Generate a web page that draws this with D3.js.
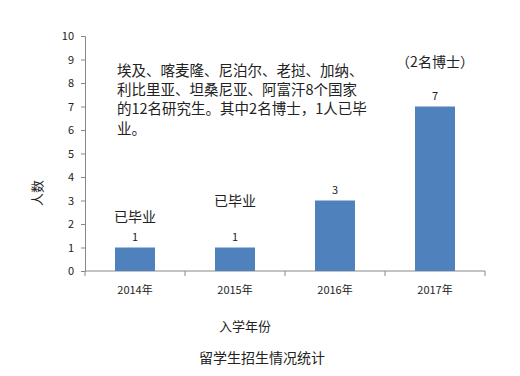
<!DOCTYPE html>
<html>
<head>
<meta charset="utf-8">
<script src="https://cdn.jsdelivr.net/npm/d3@7"></script>
<style>
	body { margin: 0; background: #fff; }
	svg text { font-family: "Noto Sans CJK SC", "DejaVu Sans", sans-serif; fill: #222; }
</style>
</head>
<body>
<svg id="chart" width="520" height="376"></svg>
<script>
const years = ["2014年", "2015年", "2016年", "2017年"];
const counts = [1, 1, 3, 7];
const yTicks = [0, 1, 2, 3, 4, 5, 6, 7, 8, 9, 10];
const notes = ["已毕业", "已毕业", "", "（2名博士）"];
const noteLevels = [2.3, 3.0, 0, 8.9]; // value level each note sits at
const blurb = [
	"埃及、喀麦隆、尼泊尔、老挝、加纳、",
	"利比里亚、坦桑尼亚、阿富汗8个国家",
	"的12名研究生。其中2名博士，1人已毕",
	"业。"
];

const svg = d3.select("#chart");
const plotLeft = 85, plotRight = 485, plotTop = 36, plotBottom = 271;

const x = d3.scaleBand().domain(years).range([plotLeft, plotRight]).paddingInner(0.6).paddingOuter(0.3);
const y = d3.scaleLinear().domain([0, 10]).range([plotBottom, plotTop]);

// y axis
const yAxis = svg.append("g")
	.attr("transform", `translate(${plotLeft},0)`)
	.call(d3.axisLeft(y).tickValues(yTicks).tickSize(4).tickPadding(7));
yAxis.select(".domain").attr("stroke", "#888");
yAxis.selectAll(".tick line").attr("stroke", "#888");
yAxis.selectAll("text").style("font-size", "11px").style("fill", "#222");

// x axis with ticks between categories
const xAxis = svg.append("g").attr("transform", `translate(0,${plotBottom})`);
xAxis.append("line").attr("x1", plotLeft).attr("x2", plotRight).attr("stroke", "#888");
const edges = d3.range(years.length + 1).map(i => plotLeft + i * (plotRight - plotLeft) / years.length);
xAxis.selectAll(".edge").data(edges).enter().append("line")
	.attr("x1", d => d).attr("x2", d => d).attr("y1", 0).attr("y2", 5).attr("stroke", "#888");
xAxis.selectAll(".lbl").data(years).enter().append("text")
	.attr("x", d => x(d) + x.bandwidth() / 2).attr("y", 23)
	.attr("text-anchor", "middle").style("font-size", "11px").text(d => d);

// bars
svg.selectAll(".bar").data(counts).enter().append("rect")
	.attr("x", (d, i) => x(years[i]))
	.attr("y", d => y(d))
	.attr("width", x.bandwidth())
	.attr("height", d => plotBottom - y(d))
	.attr("fill", "#4F81BD");

svg.selectAll(".val").data(counts).enter().append("text")
	.attr("x", (d, i) => x(years[i]) + x.bandwidth() / 2)
	.attr("y", d => y(d) - 7)
	.attr("text-anchor", "middle").style("font-size", "11px").text(d => d);

svg.selectAll(".note").data(notes).enter().append("text")
	.attr("x", (d, i) => x(years[i]) + x.bandwidth() / 2)
	.attr("y", (d, i) => y(noteLevels[i]) + 5)
	.attr("text-anchor", "middle").style("font-size", "14px").text(d => d);

svg.append("text").attr("x", 117).attr("y", 71)
	.style("font-size", "14.5px")
	.selectAll("tspan").data(blurb).enter().append("tspan")
	.attr("x", 117).attr("dy", (d, i) => i === 0 ? 5 : 19.2).text(d => d);

// axis titles
svg.append("text").attr("transform", "translate(42,193) rotate(-90)")
	.attr("text-anchor", "middle").style("font-size", "13px").text("人数");
svg.append("text").attr("x", 245).attr("y", 331)
	.attr("text-anchor", "middle").style("font-size", "13px").text("入学年份");
svg.append("text").attr("x", 262).attr("y", 363)
	.attr("text-anchor", "middle").style("font-size", "14px").text("留学生招生情况统计");
</script>
</body>
</html>
